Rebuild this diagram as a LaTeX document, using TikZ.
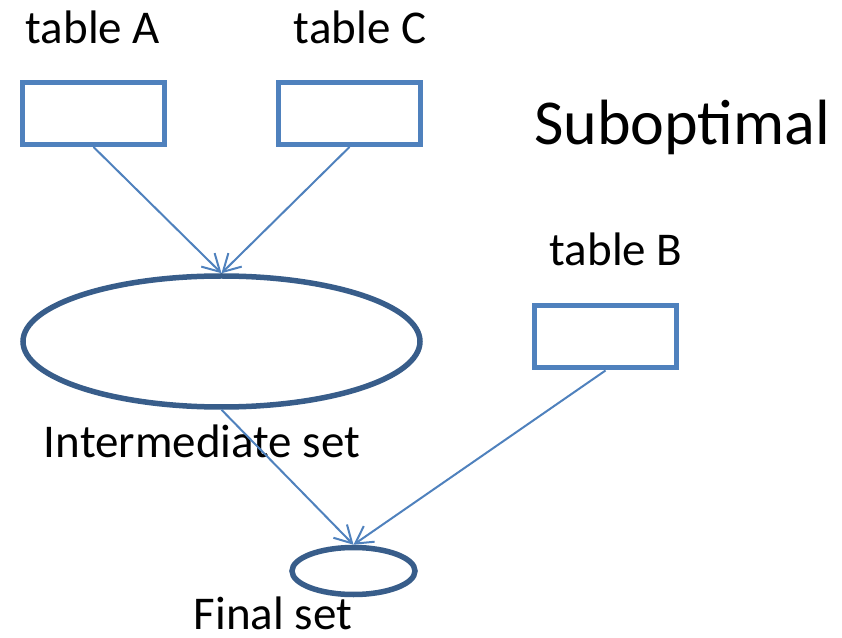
\documentclass[tikz,border=0pt]{standalone}
\usepackage{fontspec}
\setmainfont{Carlito}
\usetikzlibrary{shapes.geometric,arrows.meta}
\definecolor{boxblue}{HTML}{4F81BD}
\definecolor{setblue}{HTML}{385D8A}
\begin{document}
\begin{tikzpicture}[x=1pt,y=1pt,
  tablebox/.style={draw=boxblue,line width=5pt,fill=white,rectangle,
    minimum width=142pt,minimum height=62pt,inner sep=0pt},
  setshape/.style={draw=setblue,line width=5.5pt,fill=white,ellipse,inner sep=0pt},
  lbl/.style={anchor=base,inner sep=0pt,font=\fontsize{47}{50}\selectfont},
  link/.style={draw=boxblue,line width=2pt,
    -{Straight Barb[length=17pt,width=19pt]}}]
\useasboundingbox (0,0) rectangle (842,637);
% tables
\node[tablebox] (A) at (93.5,523.5) {};
\node[tablebox] (C) at (349.5,523.5) {};
\node[tablebox] (B) at (605.5,300) {};
% sets
\node[setshape,minimum width=397pt,minimum height=131pt] (I) at (221.5,295.5) {};
\node[setshape,minimum width=123pt,minimum height=47pt] (F) at (353.5,66) {};
% labels
\node[lbl] (la) at (93,593) {table A};
\node[lbl] (lc) at (360,593) {table C};
\node[lbl] (lb) at (616,371) {table B};
\node[lbl] (li) at (202,179) {Intermediate set};
\node[lbl] (lf) at (273,8) {Final set};
\node[lbl,font=\fontsize{64}{68}\selectfont] (title) at (682,492) {Suboptimal};
% connectors
\draw[link] (A.south) -- (I.north);
\draw[link] (C.south) -- (I.north);
\draw[link] (I.south) -- (F.north);
\draw[link] (B.south) -- (F.north);
\end{tikzpicture}
\end{document}
